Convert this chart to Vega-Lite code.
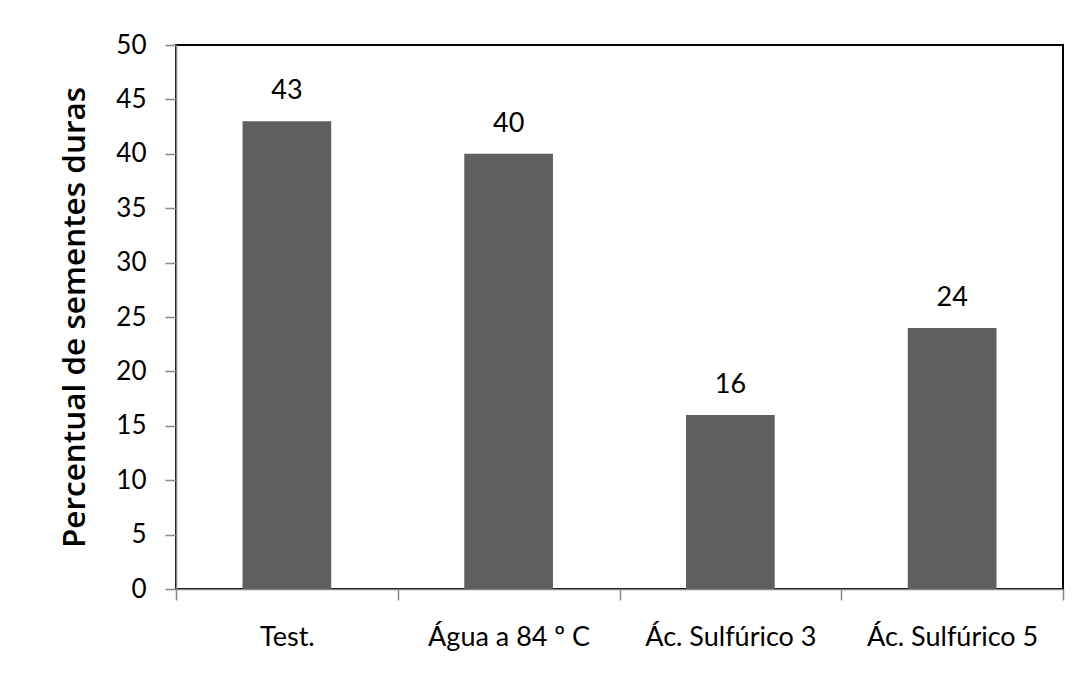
{
  "$schema": "https://vega.github.io/schema/vega-lite/v6.json",
  "autosize": {"type": "none"},
  "padding": {"left": 176, "top": 45, "right": 28, "bottom": 99},
  "width": 887,
  "height": 544,
  "background": "white",
  "config": {
    "font": "Lato",
    "view": {"stroke": "#000000", "strokeWidth": 2}
  },
  "data": {
    "values": [
      {"tratamento": "Test.", "percentual": 43},
      {"tratamento": "Água a 84 º C", "percentual": 40},
      {"tratamento": "Ác. Sulfúrico 3", "percentual": 16},
      {"tratamento": "Ác. Sulfúrico 5", "percentual": 24}
    ]
  },
  "encoding": {
    "x": {
      "field": "tratamento",
      "type": "nominal",
      "sort": null,
      "scale": {"paddingInner": 0.6, "paddingOuter": 0.3},
      "axis": {
        "title": null,
        "labelAngle": 0,
        "labelFont": "Lato",
        "labelFontSize": 27,
        "labelColor": "#000000",
        "labelPadding": 24,
        "bandPosition": 1,
        "tickExtra": true,
        "tickOffset": {"expr": "datum.extra ? -bandwidth('x') * 0.75 : bandwidth('x') * 0.75"},
        "labelOffset": {"expr": "-bandwidth('x') * 0.75"},
        "tickSize": 11,
        "tickColor": "#868686",
        "tickWidth": 1.5,
        "domainColor": "#868686",
        "domainWidth": 1.5
      }
    },
    "y": {
      "field": "percentual",
      "type": "quantitative",
      "scale": {"domain": [0, 50], "nice": false},
      "axis": {
        "title": "Percentual de sementes duras",
        "titleFont": "Open Sans",
        "titleFontSize": 31.5,
        "titleFontWeight": 600,
        "titleColor": "#000000",
        "titlePadding": 24,
        "values": [0, 5, 10, 15, 20, 25, 30, 35, 40, 45, 50],
        "grid": false,
        "labelFont": "Lato",
        "labelFontSize": 26,
        "labelColor": "#000000",
        "labelPadding": 19,
        "tickSize": 11,
        "tickColor": "#868686",
        "tickWidth": 1.5,
        "domainColor": "#868686",
        "domainWidth": 1.5
      }
    }
  },
  "layer": [
    {"mark": {"type": "bar", "color": "#5f5f5f"}},
    {
      "mark": {"type": "text", "baseline": "alphabetic", "dy": -22, "fontSize": 27, "font": "Lato", "color": "#000000"},
      "encoding": {"text": {"field": "percentual", "type": "quantitative"}}
    }
  ]
}
